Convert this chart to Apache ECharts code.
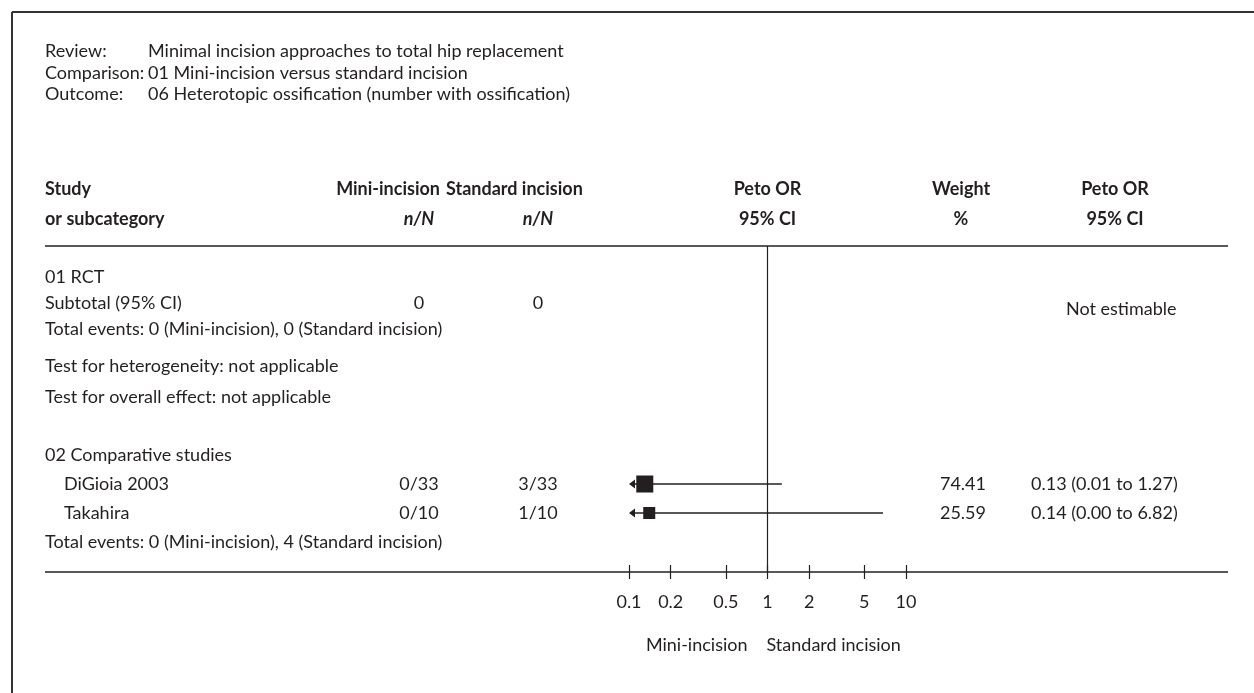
<!DOCTYPE html>
<html>
<head>
<meta charset="utf-8">
<script src="https://cdn.jsdelivr.net/npm/echarts@6/dist/echarts.min.js"></script>
<style>
  html, body { margin: 0; padding: 0; background: #fff; }
  #chart { width: 1254px; height: 693px; }
</style>
</head>
<body>
<div id="chart"></div>
<script>
// ---- Forest plot content ----
const infoLabels = ['Review:', 'Comparison:', 'Outcome:'];
const infoValues = [
  'Minimal incision approaches to total hip replacement',
  '01 Mini-incision versus standard incision',
  '06 Heterotopic ossification (number with ossification)'
];

// Summary / section lines of the table
const sectionTexts = [
  '01 RCT',
  'Subtotal (95% CI)',
  'Total events: 0 (Mini-incision), 0 (Standard incision)',
  'Test for heterogeneity: not applicable',
  'Test for overall effect: not applicable',
  '02 Comparative studies',
  'Total events: 0 (Mini-incision), 4 (Standard incision)'
];
const subtotalMini = '0';
const subtotalStd = '0';
const subtotalResult = 'Not estimable';

// Individual studies
const studyNames = ['DiGioia 2003', 'Takahira'];
const studyRows = [7, 8];
const miniEvents = ['0/33', '0/10'];
const stdEvents = ['3/33', '1/10'];
const petoOR = [0.13, 0.14];
const ciLower = [0.01, 0.00];
const ciUpper = [1.27, 6.82];
const weightPct = [74.41, 25.59];

// Axis
const tickValues = [0.1, 0.2, 0.5, 1, 2, 5, 10];
const axisMin = 0.1, axisMax = 10;
const favoursLeft = 'Mini-incision';
const favoursRight = 'Standard incision';

// ---- Layout & style ----
const FONT = 'Lato, "Open Sans", sans-serif';
const INK = '#231f20';
const FS = 18;
const colX = { left: 45, indent: 64, infoVal: 148, miniEnd: 440, mini: 419, stdStart: 446, std: 538, weight: 961, weightEnd: 986, ci: 1031, ciHead: 1115, notEst: 1066, lineEnd: 1228 };
const infoY = [51, 73, 94];
const headY = [189, 219];
const sectionY = [277, 303, 329, 366, 397, 455, 542];
const subtotalRow = 1;          // index into sectionTexts carrying the subtotal columns
const notEstY = 309;
const gridTop = 246, gridBottom = 572;
const rowMin = -1.207, rowMax = 10.034;   // row units of the plot area (29 px each)

const fmt2 = v => v.toFixed(2);
const ciText = i => fmt2(petoOR[i]) + ' (' + fmt2(ciLower[i]) + ' to ' + fmt2(ciUpper[i]) + ')';

const chart = echarts.init(document.getElementById('chart'), null, { renderer: 'canvas' });

const studyData = studyNames.map((n, i) => [studyRows[i], petoOR[i], ciLower[i], ciUpper[i], weightPct[i]]);

// CI line, weighted square, and an arrow where the interval runs off the scale
function renderStudy(params, api) {
  const row = api.value(0), or = api.value(1), lo = api.value(2), hi = api.value(3), w = api.value(4);
  const y = api.coord([1, row])[1];
  const left = api.coord([axisMin, row])[0];
  const right = api.coord([axisMax, row])[0];
  const clipLo = lo < axisMin;
  const clipHi = hi > axisMax;
  const x0 = clipLo ? left : api.coord([lo, row])[0];
  const x1 = clipHi ? right : api.coord([hi, row])[0];
  const xc = api.coord([or, row])[0];
  const size = 9.4 + w * 0.1024;
  const children = [
    { type: 'line', shape: { x1: x0 + (clipLo ? 4 : 0), y1: y, x2: x1 - (clipHi ? 4 : 0), y2: y }, style: { stroke: INK, lineWidth: 1.3 } },
    { type: 'rect', shape: { x: xc - size / 2, y: y - size / 2, width: size, height: size }, style: { fill: INK } }
  ];
  if (clipLo) children.push({ type: 'polygon', shape: { points: [[x0, y], [x0 + 6, y - 4.5], [x0 + 6, y + 4.5]] }, style: { fill: INK } });
  if (clipHi) children.push({ type: 'polygon', shape: { points: [[x1, y], [x1 - 6, y - 4.5], [x1 - 6, y + 4.5]] }, style: { fill: INK } });
  return { type: 'group', children };
}

chart.setOption({
  animation: false,
  backgroundColor: '#fff',
  textStyle: { fontFamily: FONT, color: INK },
  grid: { left: 629, right: 1254 - 906, top: gridTop, bottom: 693 - gridBottom, containLabel: false },
  xAxis: {
    type: 'log', logBase: 10, min: axisMin, max: axisMax, position: 'bottom',
    offset: 7,   // inward ticks reach back across the baseline
    axisLine: { show: false, onZero: false }, splitLine: { show: false }, minorTick: { show: false },
    axisTick: { show: true, inside: true, length: 14, customValues: tickValues, lineStyle: { color: INK, width: 1.2 } },
    axisLabel: { show: true, customValues: tickValues, margin: 14, fontSize: FS, fontFamily: FONT, color: INK, formatter: v => String(v) }
  },
  yAxis: { type: 'value', inverse: true, min: rowMin, max: rowMax, show: false },
  series: [{
    type: 'custom',
    coordinateSystem: 'cartesian2d',
    encode: { x: 1, y: 0 },
    data: studyData,
    renderItem: renderStudy,
    clip: false,
    silent: true,
    markLine: {
      silent: true, symbol: 'none', label: { show: false },
      lineStyle: { color: INK, width: 1.2, type: 'solid' },
      data: [{ xAxis: 1 }]
    }
  }]
});

// ---- Table text ----
const rowY = r => chart.convertToPixel({ yAxisIndex: 0 }, r);
const oneX = chart.convertToPixel({ xAxisIndex: 0 }, 1);
const axisY = rowY(rowMax);
const ruleY = rowY(rowMin);

function txt(text, x, y, opts) {
  opts = opts || {};
  return {
    type: 'text', silent: true, x: x, y: y,
    style: {
      text: text, fill: INK, font: (opts.italic ? 'italic ' : '') + (opts.bold ? 'bold ' : '') + FS + 'px ' + FONT,
      align: opts.align || 'left', verticalAlign: 'middle'
    }
  };
}
function hline(x1, x2, y, w) {
  return { type: 'line', silent: true, shape: { x1: x1, y1: y, x2: x2, y2: y }, style: { stroke: INK, lineWidth: w || 1.3 } };
}

const g = [];
// frame
g.push({ type: 'line', silent: true, shape: { x1: 12, y1: 12, x2: 1254, y2: 12 }, style: { stroke: '#333', lineWidth: 2 } });
g.push({ type: 'line', silent: true, shape: { x1: 12, y1: 12, x2: 12, y2: 693 }, style: { stroke: '#333', lineWidth: 2 } });

// review info
infoLabels.forEach((t, i) => {
  g.push(txt(t, colX.left, infoY[i]));
  g.push(txt(infoValues[i], colX.infoVal, infoY[i]));
});

// column headers
g.push(txt('Study', colX.left, headY[0], { bold: true }));
g.push(txt('or subcategory', colX.left, headY[1], { bold: true }));
g.push(txt('Mini-incision', colX.miniEnd, headY[0], { bold: true, align: 'right' }));
g.push(txt('n/N', colX.mini, headY[1], { bold: true, italic: true, align: 'center' }));
g.push(txt('Standard incision', colX.stdStart, headY[0], { bold: true }));
g.push(txt('n/N', colX.std, headY[1], { bold: true, italic: true, align: 'center' }));
g.push(txt('Peto OR', oneX, headY[0], { bold: true, align: 'center' }));
g.push(txt('95% CI', oneX, headY[1], { bold: true, align: 'center' }));
g.push(txt('Weight', colX.weight, headY[0], { bold: true, align: 'center' }));
g.push(txt('%', colX.weight, headY[1], { bold: true, align: 'center' }));
g.push(txt('Peto OR', colX.ciHead, headY[0], { bold: true, align: 'center' }));
g.push(txt('95% CI', colX.ciHead, headY[1], { bold: true, align: 'center' }));

// rules
g.push(hline(colX.left, colX.lineEnd, ruleY));
g.push(hline(colX.left, colX.lineEnd, axisY));

// section lines
sectionTexts.forEach((t, i) => g.push(txt(t, colX.left, sectionY[i])));
g.push(txt(subtotalMini, colX.mini, sectionY[subtotalRow], { align: 'center' }));
g.push(txt(subtotalStd, colX.std, sectionY[subtotalRow], { align: 'center' }));
g.push(txt(subtotalResult, colX.notEst, notEstY));

// study rows
studyNames.forEach((n, i) => {
  const y = rowY(studyRows[i]);
  g.push(txt(n, colX.indent, y));
  g.push(txt(miniEvents[i], colX.mini, y, { align: 'center' }));
  g.push(txt(stdEvents[i], colX.std, y, { align: 'center' }));
  g.push(txt(fmt2(weightPct[i]), colX.weightEnd, y, { align: 'right' }));
  g.push(txt(ciText(i), colX.ci, y));
});

// favours labels under the axis
g.push(txt(favoursLeft, oneX - 20, 645, { align: 'right' }));
g.push(txt(favoursRight, oneX - 1, 645));

chart.setOption({ graphic: { elements: g } });
</script>
</body>
</html>
